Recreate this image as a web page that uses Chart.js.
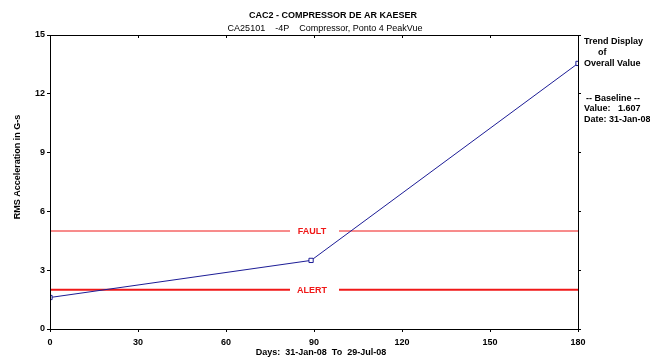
<!DOCTYPE html>
<html>
<head>
<meta charset="utf-8">
<script src="https://cdn.jsdelivr.net/npm/chart.js@4"></script>
<style>
  html, body { margin: 0; padding: 0; background: #fff; }
  #wrap { width: 650px; height: 358px; }
</style>
</head>
<body>
<div id="wrap"><canvas id="trend" width="650" height="358"></canvas></div>
<script>
// DATA
const days = [0, 89, 180];
const overall = [1.607, 3.5, 13.55];
const faultLevel = 5;
const alertLevel = 2;
const xTicks = [0, 30, 60, 90, 120, 150, 180];
const yTicks = [0, 3, 6, 9, 12, 15];

const FONT = "'Liberation Sans', Arial, sans-serif";

// texts drawn around the plot
const decor = {
  id: "decor",
  afterDraw(chart) {
    const { ctx, chartArea: a, scales } = chart;
    ctx.save();
    // frame
    ctx.strokeStyle = "#000";
    ctx.lineWidth = 1;
    ctx.strokeRect(a.left + 0.5, a.top + 0.5, a.right - a.left, a.bottom - a.top);
    // small ticks under the top edge
    ctx.beginPath();
    xTicks.forEach(v => {
      const x = Math.round(scales.x.getPixelForValue(v)) + 0.5;
      ctx.moveTo(x, a.top);
      ctx.lineTo(x, a.top + 3);
    });
    ctx.stroke();

    ctx.fillStyle = "#000";
    ctx.textBaseline = "middle";
    ctx.textAlign = "center";
    ctx.font = "bold 9px " + FONT;
    ctx.fillText("CAC2 - COMPRESSOR DE AR KAESER", 333, 16);
    ctx.font = "9px " + FONT;
    ctx.fillText("CA25101    -4P    Compressor, Ponto 4 PeakVue", 325, 29);

    ctx.font = "bold 9px " + FONT;
    ctx.fillText("Days:  31-Jan-08  To  29-Jul-08", 321, 353);

    ctx.save();
    ctx.translate(18, 167);
    ctx.rotate(-Math.PI / 2);
    ctx.fillText("RMS Acceleration in G-s", 0, 0);
    ctx.restore();

    ctx.textAlign = "left";
    ctx.fillText("Trend Display", 584, 42);
    ctx.fillText("of", 598, 53);
    ctx.fillText("Overall Value", 584, 64);
    ctx.fillText("-- Baseline --", 586, 99);
    ctx.fillText("Value:   1.607", 584, 109);
    ctx.fillText("Date: 31-Jan-08", 584, 120);

    // limit labels
    const cx = scales.x.getPixelForValue(90) - 2;
    [[faultLevel, "FAULT"], [alertLevel, "ALERT"]].forEach(([v, t]) => {
      const y = scales.y.getPixelForValue(v);
      ctx.fillStyle = "#fff";
      ctx.fillRect(cx - 22, y - 5, 49, 10);
      ctx.fillStyle = "#f01818";
      ctx.textAlign = "center";
      ctx.font = "bold 9px " + FONT;
      ctx.fillText(t, cx, y + 1);
    });
    ctx.restore();
  }
};

new Chart(document.getElementById("trend"), {
  type: "line",
  data: {
    datasets: [
      {
        label: "Overall",
        data: days.map((d, i) => ({ x: d, y: overall[i] })),
        borderColor: "#1c1c96",
        borderWidth: 1,
        pointStyle: "rect",
        pointRadius: 3,
        pointBackgroundColor: "#fff",
        pointBorderColor: "#1c1c96",
        pointBorderWidth: 1,
        tension: 0,
        order: 0
      },
      {
        label: "Fault",
        data: [{ x: 0, y: faultLevel }, { x: 180, y: faultLevel }],
        borderColor: "#f01818",
        borderWidth: 1,
        pointRadius: 0,
        order: 1
      },
      {
        label: "Alert",
        data: [{ x: 0, y: alertLevel }, { x: 180, y: alertLevel }],
        borderColor: "#f01818",
        borderWidth: 2,
        pointRadius: 0,
        order: 1
      }
    ]
  },
  options: {
    responsive: false,
    animation: false,
    events: [],
    layout: { padding: { top: 35, right: 68, left: 0, bottom: 0 } },
    plugins: { legend: { display: false }, tooltip: { enabled: false } },
    scales: {
      x: {
        type: "linear",
        min: 0,
        max: 180,
        afterBuildTicks: s => { s.ticks = xTicks.map(v => ({ value: v })); },
        afterFit: s => { s.height = 29; },
        border: { color: "#000", width: 1 },
        grid: { drawOnChartArea: false, color: "#000", tickLength: 3 },
        ticks: { color: "#000", font: { family: FONT, size: 9, weight: "bold" }, padding: 5, maxRotation: 0 }
      },
      y: {
        min: 0,
        max: 15,
        afterBuildTicks: s => { s.ticks = yTicks.map(v => ({ value: v })); },
        afterFit: s => { s.width = 50; },
        border: { color: "#000", width: 1 },
        grid: { drawOnChartArea: false, color: "#000", tickLength: 3 },
        ticks: { color: "#000", font: { family: FONT, size: 9, weight: "bold" }, padding: 2 }
      },
      y2: {
        position: "right",
        min: 0,
        max: 15,
        afterBuildTicks: s => { s.ticks = yTicks.map(v => ({ value: v })); },
        afterFit: s => { s.width = 4; },
        border: { color: "#000", width: 1 },
        grid: { drawOnChartArea: false, color: "#000", tickLength: 3 },
        ticks: { display: false }
      }
    }
  },
  plugins: [decor]
});
</script>
</body>
</html>
